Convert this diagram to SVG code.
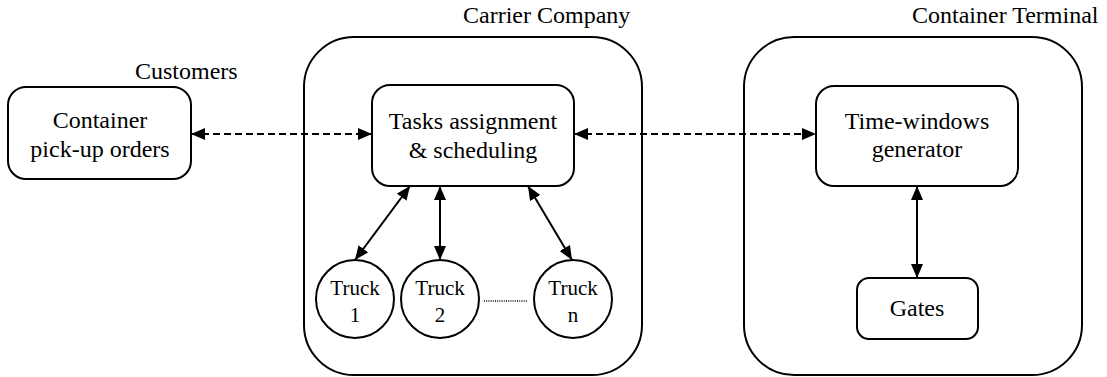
<svg xmlns="http://www.w3.org/2000/svg" width="1107" height="377" viewBox="0 0 1107 377">
  <style>
    .box { fill: #fff; stroke: #000; stroke-width: 2; }
    .grp { fill: none; stroke: #000; stroke-width: 2; }
    .t { font-family: "Liberation Serif", "Times New Roman", serif; font-size: 24px; fill: #000; text-anchor: middle; }
    .tr { font-size: 21px; }
    .title { font-family: "Liberation Serif", "Times New Roman", serif; font-size: 24px; fill: #000; }
    .link { fill: none; stroke: #000; stroke-width: 2; }
    .dash { stroke-dasharray: 7 4; }
  </style>
  <defs>
    <marker id="arr" viewBox="0 0 14 12" refX="14" refY="6" markerWidth="14" markerHeight="12" markerUnits="userSpaceOnUse" orient="auto-start-reverse">
      <path d="M0,0 L14,6 L0,12 z" fill="#000"/>
    </marker>
  </defs>

  <!-- group frames with titles -->
  <g id="carrier-company">
    <rect class="grp" x="304" y="37" width="338" height="338" rx="50" ry="50"/>
    <text class="title" x="463" y="23">Carrier Company</text>
  </g>
  <g id="container-terminal">
    <rect class="grp" x="744" y="37" width="338" height="338" rx="50" ry="50"/>
    <text class="title" x="912" y="23">Container Terminal</text>
  </g>

  <!-- connectors -->
  <g id="connectors">
    <line class="link dash" x1="191" y1="134" x2="372" y2="134" marker-start="url(#arr)" marker-end="url(#arr)"/>
    <line class="link dash" x1="574" y1="134" x2="816" y2="134" marker-start="url(#arr)" marker-end="url(#arr)"/>
    <line class="link" x1="355" y1="260" x2="410" y2="186" marker-start="url(#arr)" marker-end="url(#arr)"/>
    <line class="link" x1="440" y1="260" x2="440" y2="186" marker-start="url(#arr)" marker-end="url(#arr)"/>
    <line class="link" x1="572" y1="260" x2="528" y2="186" marker-start="url(#arr)" marker-end="url(#arr)"/>
    <line class="link" x1="917" y1="186" x2="917" y2="278" marker-start="url(#arr)" marker-end="url(#arr)"/>
    <line x1="484" y1="301" x2="528" y2="301" stroke="#000" stroke-width="1.3" stroke-dasharray="1 1.2"/>
  </g>

  <!-- nodes -->
  <g id="customers">
    <text class="title" x="135" y="79">Customers</text>
    <rect class="box" x="8" y="87" width="183" height="92" rx="18" ry="18"/>
    <text class="t" x="100" y="128">Container</text>
    <text class="t" x="100" y="157">pick-up orders</text>
  </g>
  <g id="tasks">
    <rect class="box" x="372" y="85" width="202" height="101" rx="18" ry="18"/>
    <text class="t" x="473" y="129">Tasks assignment</text>
    <text class="t" x="473" y="158">&amp; scheduling</text>
  </g>
  <g id="truck-1">
    <circle class="box" cx="355" cy="299" r="39"/>
    <text class="t tr" x="355" y="295">Truck</text>
    <text class="t tr" x="355" y="322">1</text>
  </g>
  <g id="truck-2">
    <circle class="box" cx="440" cy="299" r="39"/>
    <text class="t tr" x="440" y="295">Truck</text>
    <text class="t tr" x="440" y="322">2</text>
  </g>
  <g id="truck-n">
    <circle class="box" cx="573" cy="299" r="39"/>
    <text class="t tr" x="573" y="295">Truck</text>
    <text class="t tr" x="573" y="322">n</text>
  </g>
  <g id="time-windows">
    <rect class="box" x="816" y="86" width="202" height="100" rx="18" ry="18"/>
    <text class="t" x="917" y="129">Time-windows</text>
    <text class="t" x="917" y="157">generator</text>
  </g>
  <g id="gates">
    <rect class="box" x="857" y="278" width="121" height="61" rx="12" ry="12"/>
    <text class="t" x="917" y="316">Gates</text>
  </g>
</svg>
